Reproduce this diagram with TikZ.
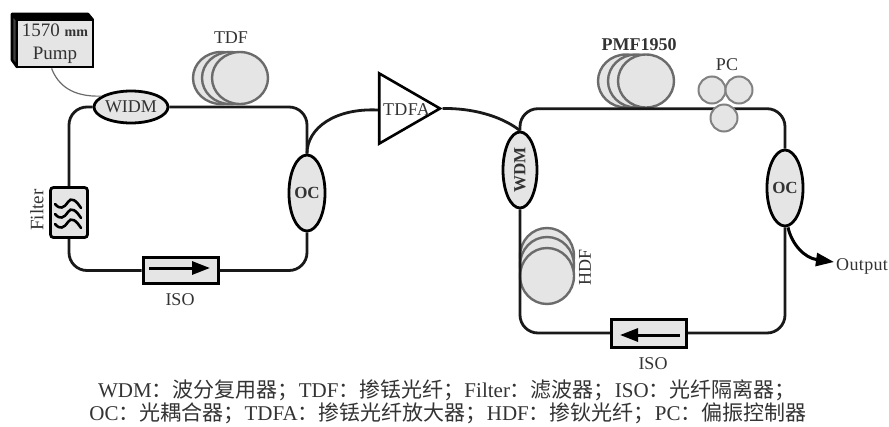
\documentclass[tikz,border=0pt]{standalone}
\usepackage{fontspec}
\setmainfont{Liberation Serif}
\newfontfamily\cjk{Noto Sans CJK SC}
\usetikzlibrary{shapes.geometric,arrows.meta}
\definecolor{ink}{gray}{0.2}
\definecolor{pale}{gray}{0.9}
\definecolor{coilc}{gray}{0.42}
\tikzset{
  x=1pt,y=-1pt,
  fiber/.style={line width=2.8pt,black!90,rounded corners=18pt},
  lbl/.style={text=ink,font=\fontsize{18}{20}\selectfont,inner sep=0pt},
  lblb/.style={text=ink,font=\fontsize{17}{20}\selectfont\bfseries,inner sep=0pt},
  coupler/.style={ellipse,draw=black,line width=2.8pt,fill=pale,inner sep=0pt},
  vcoupler/.style={coupler,minimum width=34pt,minimum height=76pt},
  coil/.style={ellipse,draw=coilc,line width=2.4pt,fill=pale,inner sep=0pt},
  hcoil/.style={coil,minimum width=56pt,minimum height=52pt},
  pcoil/.style={circle,draw=coilc!85,line width=2pt,fill=pale,minimum size=27pt,inner sep=0pt},
  isobox/.style={draw=black,line width=3pt,fill=pale,minimum width=75pt,minimum height=26pt,inner sep=0pt},
  flow/.style={line width=3pt,-{Triangle[length=18pt,width=13pt]}},
  captext/.style={inner sep=0pt,text=ink,anchor=base}
}
\newcommand{\zh}[1]{{\cjk #1}}
\begin{document}
\begin{tikzpicture}
\useasboundingbox (0,0) rectangle (889,426);
% left loop coil and nodes
\node[hcoil] (tdfa1) at (221,78) {};
\node[hcoil] (tdfb1) at (230,78) {};
\node[hcoil] (tdfc1) at (240,78) {};
\node[lbl] (tdflab) at (231,38) {TDF};
\node[coupler,minimum width=74pt,minimum height=32pt] (widm) at (131,107) {\fontsize{18}{20}\selectfont\color{ink}WIDM};
\node[vcoupler] (ocl) at (307,193) {\fontsize{17}{20}\selectfont\bfseries\color{ink}OC};
\node[draw=black,line width=2.8pt,fill=pale,rounded corners=3pt,minimum width=37pt,minimum height=50pt,inner sep=0pt] (filter) at (69,212.5) {};
\node[lbl,rotate=90,font=\fontsize{19}{20}\selectfont] (filterlab) at (37,210) {Filter};
\node[isobox] (isol) at (180.5,270.5) {};
\node[lbl] (isollab) at (180,300) {ISO};
% pump
\fill[black] (12,14) -- (88,14) -- (93,20) -- (17,20) -- cycle;
\draw[black,line width=2.6pt,fill=black!75,line join=round] (12,14) -- (17,20) -- (17,67) -- (12,60) -- cycle;
\draw[black,line width=2.6pt,line join=round] (12,14) -- (88,14) -- (93,20);
\node[draw=black,line width=2.8pt,fill=pale,minimum width=76pt,minimum height=47pt,inner sep=0pt,align=center,font=\fontsize{19}{23}\selectfont,text=ink] (pump) at (55,43.5) {1570 {\fontsize{14}{14}\selectfont\bfseries mm}\\Pump};
% TDFA
\node[draw=black,line width=2.6pt,fill=white,regular polygon,regular polygon sides=3,shape border rotate=-90,minimum size=81pt,inner sep=0pt] (tdfa) at (399.5,108.5) {};
\node[lbl] (tdfalab) at (406.5,110) {\addfontfeature{LetterSpace=2}TDFA};
% right loop coils & nodes
\node[coil,minimum width=56pt,minimum height=53pt] (pa) at (626,81) {};
\node[coil,minimum width=56pt,minimum height=53pt] (pb) at (636,81) {};
\node[coil,minimum width=56pt,minimum height=53pt] (pc) at (646,81) {};
\node[lblb,font=\fontsize{18}{20}\selectfont\bfseries] (pmflab) at (639,45) {PMF1950};
\node[pcoil] (pc1) at (712,90) {};
\node[pcoil] (pc2) at (739,90) {};
\node[lbl] (pclab) at (727,65) {PC};
\node[coil,minimum width=54pt,minimum height=56pt] (ha) at (547,256) {};
\node[coil,minimum width=54pt,minimum height=56pt] (hb) at (547,265) {};
\node[coil,minimum width=54pt,minimum height=56pt] (hc) at (547,276) {};
\node[lbl,rotate=90] (hdflab) at (585,267) {HDF};
\node[vcoupler] (wdm) at (520,170) {};
\node[lblb,rotate=90] (wdmlab) at (520,170) {WDM};
\node[vcoupler] (ocr) at (785,188) {\fontsize{17}{20}\selectfont\bfseries\color{ink}OC};
\node[isobox,minimum height=28pt] (isor) at (649,333) {};
\node[lbl] (isorlab) at (653,364) {ISO};
\node[lbl,anchor=west,font=\fontsize{18}{20}\selectfont\addfontfeature{LetterSpace=2}] (outlab) at (836,266) {Output};
\coordinate (outtip) at (834,262);
% fibres left
\draw[fiber] (widm.west) -| (filter.north);
\draw[fiber] (widm.east) -| (ocl.north);
\draw[fiber] (filter.south) |- (isol.west);
\draw[fiber] (isol.east) -| (ocl.south);
\draw[line width=1.2pt,coilc] (pump.south west) ++(36,0) .. controls (58,85) and (72,97) .. (widm.160);
% fibres across
\draw[line width=2.8pt,black!90] (ocl.north) .. controls (307,128) and (335,108) .. (tdfa.west |- tdfalab.west);
\draw[line width=2.8pt,black!90] (tdfa.east) .. controls (470,108) and (500,115) .. (wdm.north);
% fibres right
\draw[fiber] (wdm.north) |- (pa.south -| pc1.south) -| (ocr.north);
\draw[fiber] (wdm.south) |- (isor.west);
\draw[fiber] (isor.east) -| (ocr.south);
\node[pcoil] (pc3) at (724,118) {};
\draw[flow] (ocr.south) ++(3,0) .. controls (792,245) and (805,258) .. (outtip);
% iso arrows
\coordinate (al1) at (149,268); \coordinate (al2) at (210,268);
\coordinate (ar1) at (680,335); \coordinate (ar2) at (620,335);
\draw[flow] (al1) -- (al2);
\draw[flow] (ar1) -- (ar2);
% filter waves
\draw[line width=2.6pt,black,line cap=round]
 (55,204) .. controls (60,210) and (64,208) .. (68,202) .. controls (71,197) and (76,200) .. (81,208)
 (55,214) .. controls (60,220) and (64,218) .. (68,212) .. controls (71,207) and (76,210) .. (81,218)
 (55,224) .. controls (60,230) and (64,228) .. (68,222) .. controls (71,217) and (76,220) .. (81,228);
% caption
\node[captext] (cap1) at (447,397) {\fontsize{21}{23}\selectfont WDM\zh{：波分复用器；}TDF\zh{：掺铥光纤；}Filter\zh{：滤波器；}ISO\zh{：光纤隔离器；}};
\node[captext] (cap2) at (448,420) {\fontsize{21}{23}\selectfont OC\zh{：光耦合器；}TDFA\zh{：掺铥光纤放大器；}HDF\zh{：掺钬光纤；}PC\zh{：偏振控制器}};
\end{tikzpicture}
\end{document}
